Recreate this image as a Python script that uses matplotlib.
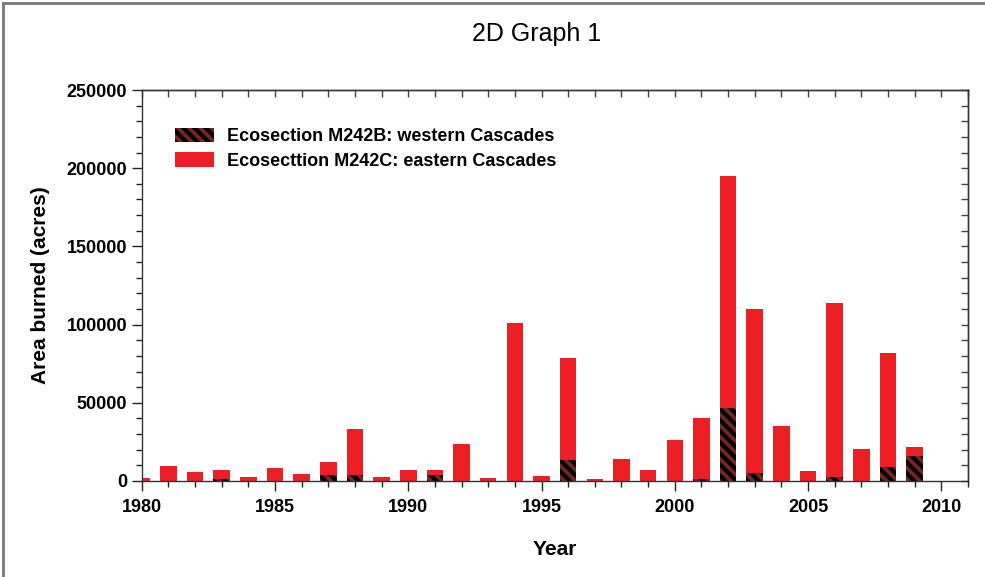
import numpy as np
import matplotlib
matplotlib.use("Agg")
import matplotlib.pyplot as plt
from matplotlib.patches import Patch
from matplotlib.lines import Line2D
from matplotlib.ticker import MultipleLocator

years = np.arange(1980, 2010)
# (acres); western = hatched part, eastern = red part on top
western = [0, 0, 0, 1000, 0, 0, 0, 3600, 3600, 0,
           0, 4100, 0, 0, 0, 0, 13200, 0, 0, 0,
           0, 1000, 46700, 4900, 0, 0, 2700, 0, 8800, 16200]
eastern = [2200, 9600, 5800, 5800, 2600, 8300, 4300, 8800, 29400, 2600,
           6800, 2700, 23500, 1900, 100800, 3200, 65600, 1100, 13900, 6800,
           26500, 39300, 148500, 104900, 35400, 6600, 110900, 20300, 73200, 5300]
labels = ["Ecosection M242B: western Cascades", "Ecosecttion M242C: eastern Cascades"]

red = "#ec1f24"
dark = "#7a2620"
plt.rcParams["font.family"] = ["Liberation Sans", "DejaVu Sans"]
plt.rcParams["hatch.linewidth"] = 3.0
plt.rcParams["hatch.color"] = "black"

fig = plt.figure(figsize=(9.85, 5.77), dpi=100)
ax = fig.add_axes([0.1439, 0.1664, 0.8388, 0.6776])

w = 0.62
ax.bar(years, western, width=w, color=dark, edgecolor="black", linewidth=0, hatch="\\\\\\")
ax.bar(years, eastern, bottom=western, width=w, color=red, linewidth=0)

ax.set_xlim(1980, 2011)
ax.set_ylim(0, 250000)
ax.xaxis.set_major_locator(MultipleLocator(5))
ax.xaxis.set_minor_locator(MultipleLocator(1))
ax.yaxis.set_major_locator(MultipleLocator(50000))
ax.yaxis.set_minor_locator(MultipleLocator(10000))
ax.tick_params(which="major", direction="out", length=7, width=1, colors="#222222",
               labelsize=13, labelcolor="black")
ax.tick_params(axis="x", which="major", pad=6)
ax.tick_params(which="minor", direction="out", length=4, width=1, colors="#222222")
for lab in ax.get_xticklabels() + ax.get_yticklabels():
    lab.set_fontweight("bold")

# inward ticks on top and right
top = ax.secondary_xaxis("top")
top.xaxis.set_major_locator(MultipleLocator(1))
top.tick_params(direction="in", length=5, width=1, colors="#444444", labeltop=False)
right = ax.secondary_yaxis("right")
right.yaxis.set_major_locator(MultipleLocator(10000))
right.tick_params(direction="in", length=5, width=1, colors="#444444", labelright=False)
for sp in list(ax.spines.values()) + [top.spines["top"], right.spines["right"]]:
    sp.set_color("#333333")
    sp.set_linewidth(1)

ax.set_xlabel("Year", fontsize=15, fontweight="bold", labelpad=17)
ax.set_ylabel("Area burned (acres)", fontsize=15, fontweight="bold", labelpad=12)

handles = [Patch(facecolor=dark, edgecolor="black", linewidth=0, hatch="\\\\\\"),
           Patch(facecolor=red, linewidth=0)]
ax.legend(handles, labels, loc="upper left", bbox_to_anchor=(0.02, 0.945), frameon=False,
          prop={"weight": "bold", "size": 13}, handlelength=2.2, handleheight=0.85,
          labelspacing=0.4, handletextpad=0.7)

fig.text(537 / 985, 1 - 34 / 577, "2D Graph 1", fontsize=18, ha="center", va="center")

# frame lines of the original image (top and left)
fig.add_artist(Line2D([0.003, 0.003], [0, 0.995], transform=fig.transFigure, color="#777777", lw=2))
fig.add_artist(Line2D([0.003, 1], [0.995, 0.995], transform=fig.transFigure, color="#777777", lw=2))

fig.savefig("out.png", dpi=100)
